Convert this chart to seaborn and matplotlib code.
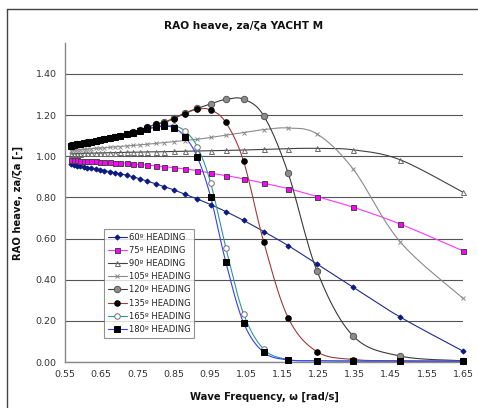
import numpy as np
import pandas as pd
import seaborn as sns
import matplotlib
matplotlib.use("Agg")
import matplotlib.pyplot as plt
from matplotlib.lines import Line2D

# Wave frequencies [rad/s]
omega = [0.566, 0.574, 0.583, 0.592, 0.602, 0.612, 0.623, 0.635, 0.647, 0.659,
         0.673, 0.688, 0.703, 0.720, 0.737, 0.757, 0.777, 0.800, 0.824, 0.851,
         0.881, 0.915, 0.952, 0.994, 1.043, 1.099, 1.166, 1.246, 1.346, 1.475, 1.649]

# Heave RAO per heading
rao_060 = [0.960, 0.957, 0.954, 0.951, 0.948, 0.945, 0.942, 0.938, 0.934, 0.930,
           0.925, 0.920, 0.914, 0.908, 0.900, 0.890, 0.879, 0.866, 0.852, 0.836,
           0.815, 0.792, 0.765, 0.731, 0.688, 0.634, 0.566, 0.476, 0.363, 0.219, 0.053]
rao_075 = [0.982, 0.981, 0.980, 0.979, 0.978, 0.977, 0.976, 0.975, 0.974, 0.972,
           0.971, 0.969, 0.967, 0.965, 0.963, 0.960, 0.957, 0.953, 0.949, 0.944,
           0.938, 0.930, 0.918, 0.906, 0.890, 0.869, 0.843, 0.804, 0.752, 0.671, 0.540]
rao_090 = [1.012, 1.012, 1.013, 1.013, 1.014, 1.014, 1.015, 1.015, 1.016, 1.016,
           1.017, 1.017, 1.018, 1.019, 1.019, 1.020, 1.021, 1.021, 1.022, 1.023,
           1.024, 1.025, 1.026, 1.028, 1.030, 1.033, 1.037, 1.038, 1.031, 0.983, 0.825]
rao_105 = [1.027, 1.028, 1.030, 1.031, 1.033, 1.034, 1.036, 1.038, 1.039, 1.041,
           1.043, 1.045, 1.047, 1.050, 1.052, 1.055, 1.058, 1.062, 1.066, 1.071,
           1.076, 1.082, 1.091, 1.102, 1.115, 1.129, 1.137, 1.108, 0.937, 0.585, 0.310]
rao_120 = [1.052, 1.055, 1.058, 1.061, 1.064, 1.067, 1.071, 1.075, 1.079, 1.083,
           1.088, 1.094, 1.100, 1.108, 1.116, 1.127, 1.140, 1.155, 1.165, 1.185,
           1.210, 1.232, 1.254, 1.276, 1.277, 1.196, 0.919, 0.442, 0.126, 0.029, 0.006]
rao_135 = [1.052, 1.055, 1.058, 1.061, 1.064, 1.067, 1.071, 1.075, 1.079, 1.083,
           1.088, 1.094, 1.100, 1.108, 1.116, 1.127, 1.140, 1.155, 1.163, 1.183,
           1.207, 1.228, 1.225, 1.164, 0.977, 0.582, 0.216, 0.050, 0.012, 0.006, 0.004]
rao_165 = [1.051, 1.054, 1.057, 1.060, 1.063, 1.066, 1.070, 1.074, 1.078, 1.082,
           1.087, 1.093, 1.099, 1.106, 1.113, 1.124, 1.134, 1.143, 1.149, 1.147,
           1.123, 1.047, 0.872, 0.556, 0.235, 0.062, 0.012, 0.006, 0.004, 0.003, 0.003]
rao_180 = [1.051, 1.054, 1.057, 1.060, 1.063, 1.066, 1.070, 1.074, 1.078, 1.082,
           1.087, 1.093, 1.099, 1.106, 1.113, 1.123, 1.132, 1.140, 1.145, 1.138,
           1.095, 0.998, 0.804, 0.486, 0.191, 0.047, 0.010, 0.006, 0.005, 0.004, 0.004]

headings = ["60º HEADING", "75º HEADING", "90º HEADING", "105º HEADING",
            "120º HEADING", "135º HEADING", "165º HEADING", "180º HEADING"]
series = [rao_060, rao_075, rao_090, rao_105, rao_120, rao_135, rao_165, rao_180]

x_ticks = [0.55, 0.65, 0.75, 0.85, 0.95, 1.05, 1.15, 1.25, 1.35, 1.45, 1.55, 1.65]
y_ticks = [0.00, 0.20, 0.40, 0.60, 0.80, 1.00, 1.20, 1.40]

# line colour, marker, marker face, marker edge, marker size
styles = [
    ("#1c2a8c", "D", "#0a1a80", "#0a1a80", 2.6),
    ("#ff33ff", "s", "#ff00ff", "#444444", 3.6),
    ("#404040", "^", "none", "#6a6a6a", 3.6),
    ("#8a8a8a", "x", "none", "#6a6a6a", 3.2),
    ("#3a3a3a", "o", "#8c8c8c", "#555555", 4.6),
    ("#a03a3a", "o", "#000000", "#000000", 4.0),
    ("#2a9a90", "o", "white", "#707070", 4.0),
    ("#3a3aff", "s", "#000000", "#000000", 3.8),
]


def smooth_path(xs, ys, n=12):
    """Bezier smoothing between consecutive points (Catmull-Rom style)."""
    p = np.column_stack([xs, ys])
    out = [p[0]]
    for i in range(len(p) - 1):
        p0 = p[i - 1] if i > 0 else p[i]
        p1, p2 = p[i], p[i + 1]
        p3 = p[i + 2] if i + 2 < len(p) else p[i + 1]
        c1 = p1 + (p2 - p0) / 6.0
        c2 = p2 - (p3 - p1) / 6.0
        t = np.linspace(0, 1, n + 1)[1:, None]
        seg = ((1 - t) ** 3) * p1 + 3 * ((1 - t) ** 2) * t * c1 + 3 * (1 - t) * t ** 2 * c2 + t ** 3 * p2
        out.extend(seg)
    out = np.array(out)
    return out[:, 0], out[:, 1]


sns.set_theme(style="white")
plt.rcParams["font.family"] = ["DejaVu Sans"]

fig = plt.figure(figsize=(4.78, 4.08), dpi=100)
ax = fig.add_axes([65 / 478, 46 / 408, 398.3 / 478, 319 / 408])

handles = []
for name, ys, (lc, mk, mf, me, ms) in zip(headings, series, styles):
    sx, sy = smooth_path(np.array(omega), np.array(ys))
    curve = pd.DataFrame({"w": sx, "r": sy})
    sns.lineplot(data=curve, x="w", y="r", ax=ax, color=lc, linewidth=0.8,
                 sort=False, estimator=None, legend=False)
    pts = pd.DataFrame({"w": omega, "r": ys})
    ax.plot(pts["w"], pts["r"], linestyle="none", marker=mk, markersize=ms,
            markerfacecolor=mf, markeredgecolor=me if mk != "x" else lc,
            markeredgewidth=0.7, clip_on=False, zorder=3)
    handles.append(Line2D([0], [0], color=lc, linewidth=0.8, marker=mk,
                          markersize=ms, markerfacecolor=mf,
                          markeredgecolor=me if mk != "x" else lc,
                          markeredgewidth=0.7, label=name))

ax.set_xlim(0.55, 1.65)
ax.set_ylim(0.0, 1.55)
ax.set_xticks(x_ticks)
ax.set_xticklabels([f"{v:.2f}" for v in x_ticks])
ax.set_yticks(y_ticks)
ax.set_yticklabels([f"{v:.2f}" for v in y_ticks])
ax.tick_params(axis="both", labelsize=6.8, colors="#333333", length=0, pad=6)
ax.yaxis.grid(True, color="#555555", linewidth=0.8)
ax.xaxis.grid(False)
for side in ("top", "right"):
    ax.spines[side].set_visible(False)
for side in ("left", "bottom"):
    ax.spines[side].set_color("#888888")
    ax.spines[side].set_linewidth(1.0)

ax.set_xlabel("Wave Frequency, ω [rad/s]", fontsize=7.2, fontweight="bold",
              color="#111111", labelpad=9)
ax.set_ylabel("RAO heave, za/ζa [-]", fontsize=7.2, fontweight="bold",
              color="#111111", labelpad=9)

fig.text(244 / 478, 1 - 26 / 408, "RAO heave, za/ζa YACHT M", ha="center",
         va="center", fontsize=7.6, fontweight="bold", color="#111111")

leg = ax.legend(handles=handles, loc="upper left",
                bbox_to_anchor=((104 - 65) / 398.3, (362 - 229) / 319),
                fontsize=6.0, frameon=True, fancybox=False, shadow=False,
                handlelength=2.3, handletextpad=0.2, borderpad=0.45,
                labelspacing=0.5, borderaxespad=0.0)
leg.get_frame().set_edgecolor("#777777")
leg.get_frame().set_linewidth(0.8)
for t in leg.get_texts():
    t.set_color("#222222")

# chart area border (left and top edges)
fig.add_artist(Line2D([7 / 478, 7 / 478], [0, 1 - 9 / 408], color="#444444",
                      linewidth=1.0, transform=fig.transFigure))
fig.add_artist(Line2D([7 / 478, 1.0], [1 - 9 / 408, 1 - 9 / 408], color="#444444",
                      linewidth=1.0, transform=fig.transFigure))

fig.savefig("out.png", dpi=100, facecolor="white")
